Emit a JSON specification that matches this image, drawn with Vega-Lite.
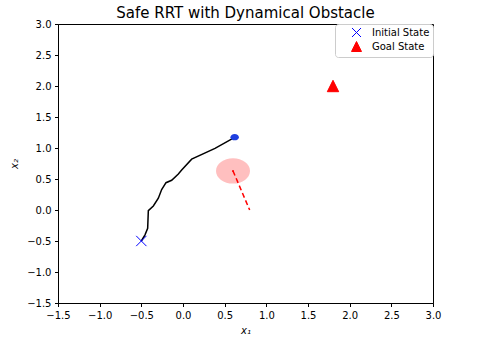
{
  "$schema": "https://vega.github.io/schema/vega-lite/v6.json",
  "autosize": "none",
  "width": 375,
  "height": 279,
  "padding": {"left": 58, "top": 24, "right": 46, "bottom": 35},
  "config": {
    "font": "DejaVu Sans",
    "view": {"stroke": "black", "strokeWidth": 1},
    "axis": {
      "grid": false,
      "domainColor": "black",
      "tickColor": "black",
      "tickSize": 3.5,
      "labelPadding": 3.5,
      "labelFontSize": 10,
      "labelColor": "black",
      "labelFlush": false,
      "labelOverlap": false,
      "titleFontSize": 10,
      "titleFontWeight": "normal",
      "titleColor": "black"
    },
    "legend": {
      "orient": "top-right", "offset": 0, "fillColor": "white", "strokeColor": "#cccccc", "cornerRadius": 3, "padding": 3, "labelFontSize": 10, "labelColor": "black", "symbolOffset": 13, "labelOffset": 10, "rowPadding": 0, "symbolStrokeWidth": 1, "symbolSize": 100
    }
  },
  "title": {"text": "Safe RRT with Dynamical Obstacle", "fontSize": 15, "fontWeight": "normal", "offset": -2, "anchor": "middle", "frame": "group", "color": "black"},
  "datasets": {
    "path": [
      {"x": -0.5, "y": -0.5, "o": 0},
      {"x": -0.456, "y": -0.4, "o": 1},
      {"x": -0.424, "y": -0.295, "o": 2},
      {"x": -0.416, "y": -0.01, "o": 3},
      {"x": -0.356, "y": 0.065, "o": 4},
      {"x": -0.296, "y": 0.19, "o": 5},
      {"x": -0.256, "y": 0.33, "o": 6},
      {"x": -0.204, "y": 0.44, "o": 7},
      {"x": -0.136, "y": 0.48, "o": 8},
      {"x": -0.056, "y": 0.58, "o": 9},
      {"x": -0.016, "y": 0.645, "o": 10},
      {"x": 0.104, "y": 0.82, "o": 11},
      {"x": 0.384, "y": 0.995, "o": 12},
      {"x": 0.62, "y": 1.17, "o": 13}
    ],
    "obstacle": [{"x": 0.6, "y": 0.63}],
    "velocity": [
      {"x": 0.6, "y": 0.63, "o": 0},
      {"x": 0.8, "y": 0.0, "o": 1}
    ],
    "end": [{"x": 0.62, "y": 1.175}],
    "states": [
      {"x": -0.5, "y": -0.5, "label": "Initial State"},
      {"x": 1.8, "y": 2.0, "label": "Goal State"}
    ]
  },
  "encoding": {
    "x": {
      "field": "x", "type": "quantitative",
      "scale": {"domain": [-1.5, 3.0], "nice": false, "zero": false},
      "axis": {"values": [-1.5, -1.0, -0.5, 0.0, 0.5, 1.0, 1.5, 2.0, 2.5, 3.0], "format": ".1f", "title": "x₁", "titlePadding": 5, "titleFontStyle": "italic"}
    },
    "y": {
      "field": "y", "type": "quantitative",
      "scale": {"domain": [-1.5, 3.0], "nice": false, "zero": false},
      "axis": {"values": [-1.5, -1.0, -0.5, 0.0, 0.5, 1.0, 1.5, 2.0, 2.5, 3.0], "format": ".1f", "title": "x₂", "titlePadding": 7, "titleFontStyle": "italic"}
    }
  },
  "layer": [
    {
      "data": {"name": "obstacle"},
      "mark": {"type": "point", "filled": true, "shape": "M-1,0A1,0.744,0,1,0,1,0A1,0.744,0,1,0,-1,0Z", "size": 1156, "color": "red", "opacity": 0.25, "strokeWidth": 0}
    },
    {
      "data": {"name": "obstacle"},
      "mark": {"type": "point", "filled": true, "shape": "circle", "size": 4, "color": "red", "opacity": 1}
    },
    {
      "data": {"name": "velocity"},
      "mark": {"type": "line", "color": "red", "strokeWidth": 1.5, "strokeDash": [5, 3]},
      "encoding": {"order": {"field": "o", "type": "quantitative"}}
    },
    {
      "data": {"name": "path"},
      "mark": {"type": "line", "color": "black", "strokeWidth": 1.5},
      "encoding": {"order": {"field": "o", "type": "quantitative"}}
    },
    {
      "data": {"name": "end"},
      "mark": {"type": "point", "filled": true, "shape": "M-1,0A1,0.744,0,1,0,1,0A1,0.744,0,1,0,-1,0Z", "size": 72, "color": "#1f3fe0", "opacity": 1, "strokeWidth": 0}
    },
    {
      "data": {"name": "states"},
      "mark": {"type": "point", "filled": true, "size": 130, "strokeWidth": 1, "opacity": 1},
      "encoding": {
        "shape": {
          "field": "label", "type": "nominal",
          "scale": {"domain": ["Initial State", "Goal State"], "range": ["M-0.9,-0.9L0.9,0.9M-0.9,0.9L0.9,-0.9", "M0,-1L-1,1L1,1Z"]},
          "legend": {"title": null}
        },
        "fill": {
          "field": "label", "type": "nominal",
          "scale": {"domain": ["Initial State", "Goal State"], "range": ["blue", "red"]},
          "legend": {"title": null}
        },
        "stroke": {
          "field": "label", "type": "nominal",
          "scale": {"domain": ["Initial State", "Goal State"], "range": ["blue", "red"]},
          "legend": {"title": null}
        }
      }
    }
  ]
}
